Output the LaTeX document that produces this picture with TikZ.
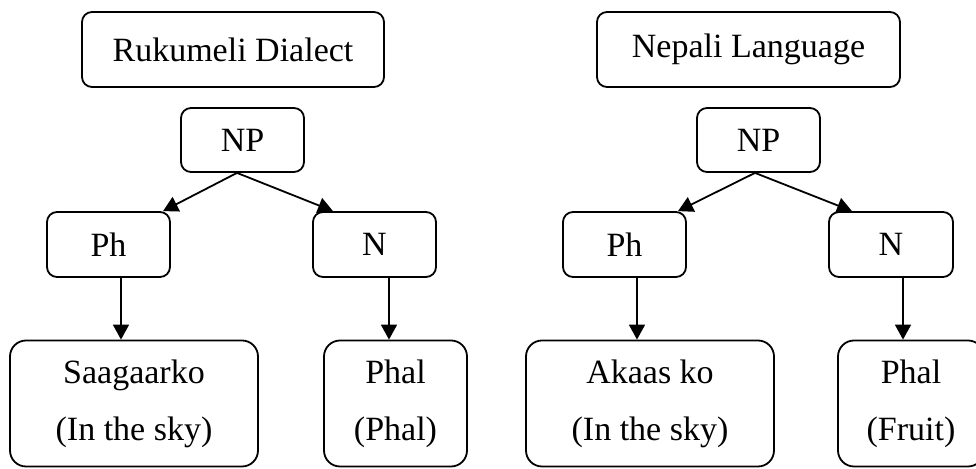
\documentclass[tikz,border=0pt]{standalone}
\usepackage{fontspec}
\setmainfont{Liberation Serif}
\usetikzlibrary{arrows.meta}

\tikzset{
  box/.style={draw, line width=0.9pt, rounded corners=5pt, inner sep=0pt,
              font=\fontsize{17}{28.5}\selectfont, align=center},
  bigbox/.style={box, rounded corners=8pt},
  arr/.style={line width=0.9pt, -{Triangle[length=7.5pt,width=8pt]}},
}

\begin{document}
\begin{tikzpicture}[x=0.5pt, y=-0.5pt]
  \useasboundingbox (0,0) rectangle (976,469);
  \clip (0,0) rectangle (976,469);

  % Rukumeli dialect tree
  \node[box, minimum width=151pt, minimum height=37.5pt] (title1) at (233,49.5) {Rukumeli Dialect};
  \node[box, minimum width=61.5pt, minimum height=32pt] (np1) at (242.5,140) {NP};
  \node[box, minimum width=61.5pt, minimum height=32.5pt] (ph1) at (108.5,244.5) {Ph};
  \node[box, minimum width=61.5pt, minimum height=32.5pt] (n1) at (374.5,244.5) {N};
  \node[bigbox, minimum width=124pt, minimum height=63pt] (sa1) at (134,403.5) {Saagaarko\\(In the sky)};
  \node[bigbox, minimum width=71.5pt, minimum height=63pt] (phal1) at (395.5,403.5) {Phal\\(Phal)};

  \draw[arr] ([xshift=-2.75pt]np1.south) -- ([xshift=27.25pt]ph1.north);
  \draw[arr] ([xshift=-2.75pt]np1.south) -- ([xshift=-20.75pt]n1.north);
  \draw[arr] ([xshift=6.25pt]ph1.south) coordinate (a1) -- (a1 |- sa1.north);
  \draw[arr] ([xshift=7.25pt]n1.south) coordinate (b1) -- (b1 |- phal1.north);

  % Nepali language tree
  \node[box, minimum width=151.5pt, minimum height=37.5pt] (title2) at (748.5,49.5) {Nepali Language};
  \node[box, minimum width=61.5pt, minimum height=32pt] (np2) at (758.5,140) {NP};
  \node[box, minimum width=61.5pt, minimum height=32.5pt] (ph2) at (624.5,244.5) {Ph};
  \node[box, minimum width=62pt, minimum height=32.5pt] (n2) at (891,244.5) {N};
  \node[bigbox, minimum width=124pt, minimum height=63pt] (ak2) at (650,403.5) {Akaas ko\\(In the sky)};
  \node[bigbox, minimum width=73pt, minimum height=63pt] (phal2) at (911,403.5) {Phal\\(Fruit)};

  \draw[arr] ([xshift=-1.75pt]np2.south) -- ([xshift=26.75pt]ph2.north);
  \draw[arr] ([xshift=-1.75pt]np2.south) -- ([xshift=-19.5pt]n2.north);
  \draw[arr] ([xshift=6.25pt]ph2.south) coordinate (a2) -- (a2 |- ak2.north);
  \draw[arr] ([xshift=6pt]n2.south) coordinate (b2) -- (b2 |- phal2.north);
\end{tikzpicture}
\end{document}
